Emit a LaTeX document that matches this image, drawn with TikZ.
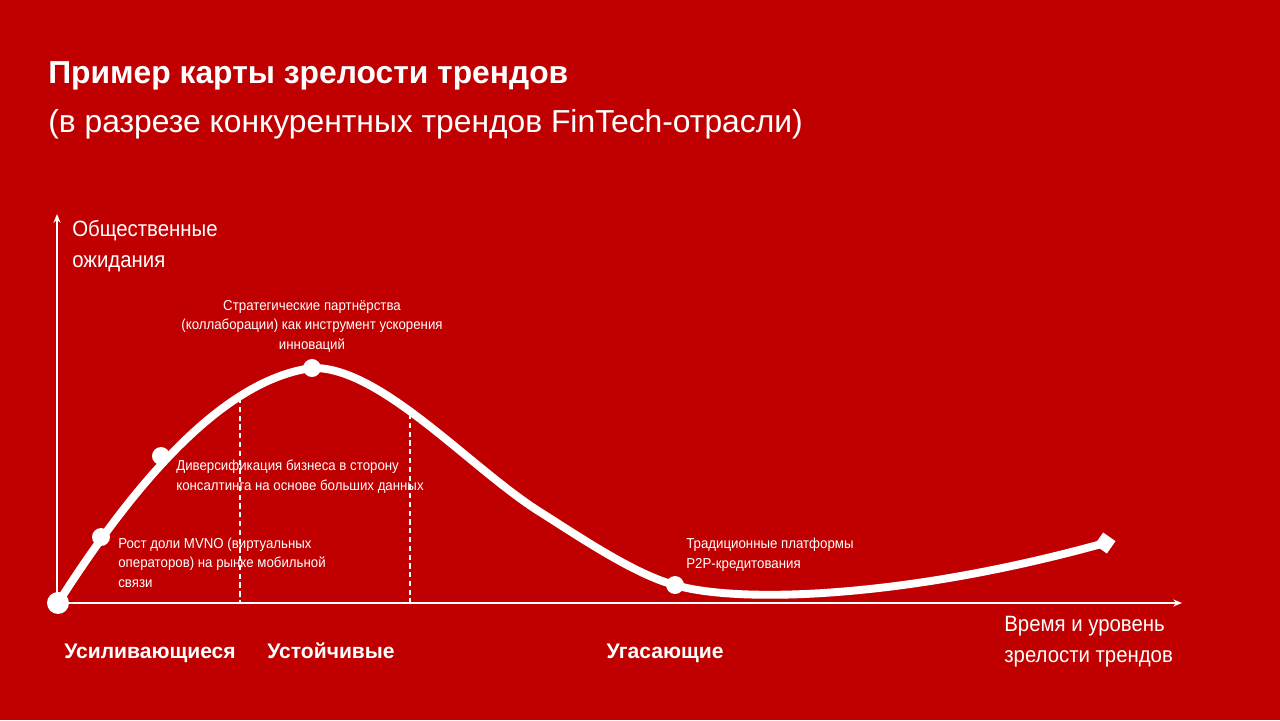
\documentclass[tikz,border=0pt]{standalone}
\usepackage{fontspec}
\setmainfont{Liberation Sans}
\newfontfamily\narrowsans{Liberation Sans}[FakeStretch=0.92]
\usetikzlibrary{arrows.meta,shapes.geometric}
\definecolor{bgred}{HTML}{C00000}
\tikzset{
  trend/.style={white, line width=4.5pt, line cap=round, line join=round},
  dot/.style={circle, fill=white, inner sep=0pt, minimum size=#1},
  note/.style={white, font=\narrowsans\fontsize{8.2}{11}\selectfont, inner sep=0pt, align=left},
  stage/.style={white, font=\fontsize{12}{14}\selectfont\bfseries, inner sep=0pt, anchor=base},
  axislabel/.style={white, font=\narrowsans\fontsize{12.6}{17.6}\selectfont, inner sep=0pt, align=left},
  border/.style={white, line width=0.6pt, dash pattern=on 3pt off 2pt}
}
\begin{document}
\begin{tikzpicture}[x=0.02cm, y=-0.02cm]
\fill[bgred] (0,0) rectangle (1280,720);
\useasboundingbox (0,0) rectangle (1280,720);
% title
\node[white, anchor=base west, inner sep=0pt, font=\fontsize{18.1}{20}\selectfont\bfseries] (title) at (48,83) {Пример карты зрелости трендов};
\node[white, anchor=base west, inner sep=0pt, font=\fontsize{18.1}{20}\selectfont] (subtitle) at (48,132) {(в разрезе конкурентных трендов FinTech-отрасли)};
% axes
\coordinate (O) at (57,603);
\coordinate (ytop) at (57,214);
\coordinate (xend) at (1182,603);
\draw[white, line width=1pt, -{Stealth[length=5pt,width=4pt]}] (O) -- (ytop);
\draw[white, line width=1pt, -{Stealth[length=5pt,width=4pt]}] (O) -- (xend);
\node[axislabel, anchor=base west] (ylab) at (72,267) {Общественные\\ожидания};
\node[axislabel, anchor=base west] (xlab) at (1004,662) {Время и уровень\\зрелости трендов};
% stage borders
\draw[border] (240,398) -- (240,603);
\draw[border] (410,414) -- (410,603);
% trend curve
\coordinate (p0) at (58,603);
\coordinate (p1) at (101,537);
\coordinate (p2) at (161,456);
\coordinate (p3) at (312,368);
\coordinate (p4) at (675,585);
\coordinate (p5) at (1105,543);
\coordinate (bend) at (540,512);
\draw[trend] (p0) .. controls (130,490) and (220,380) .. (p3)
  .. controls (380,366) and (470,468) .. (bend)
  .. controls (575,534) and (635,575) .. (p4)
  .. controls (735,603) and (900,600) .. (p5);
\node[dot=12.5pt] (d0) at (p0) {};
\node[dot=10.2pt] (d1) at (p1) {};
\node[dot=10.2pt] (d2) at (p2) {};
\node[dot=10.2pt] (d3) at (p3) {};
\node[dot=10.2pt] (d4) at (p4) {};
\node[diamond, fill=white, inner sep=0pt, minimum size=12.3pt, rotate=10] (d5) at (p5) {};
% labels of trends
\node[note, align=center, anchor=base] (n3) at (312,349) {Стратегические партнёрства\\(коллаборации) как инструмент ускорения\\инноваций};
\node[note, anchor=base west] (n2) at (176,490) {Диверсификация бизнеса в сторону\\консалтинга на основе больших данных};
\node[note, anchor=base west] (n1) at (118,587) {Рост доли MVNO (виртуальных\\операторов) на рынке мобильной\\связи};
\node[note, anchor=base west] (n4) at (686,568) {Традиционные платформы\\P2P-кредитования};
% stages
\node[stage] (s1) at (150,658) {Усиливающиеся};
\node[stage] (s2) at (331,658) {Устойчивые};
\node[stage] (s3) at (665,658) {Угасающие};
\end{tikzpicture}
\end{document}
